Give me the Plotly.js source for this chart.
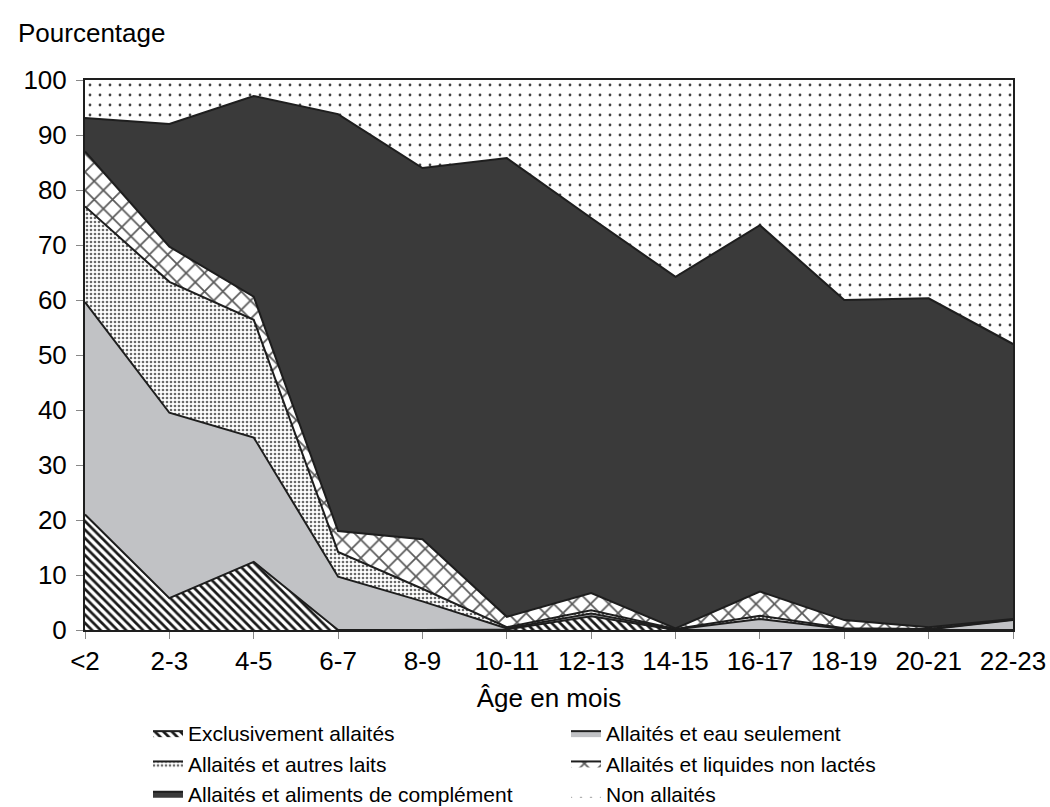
<!DOCTYPE html>
<html>
<head>
<meta charset="utf-8">
<script src="https://cdn.plot.ly/plotly-3.0.1.min.js"></script>
<style>html,body{margin:0;padding:0;background:#fff;}</style>
</head>
<body>
<div id="chart" style="width:1050px;height:807px;"></div>
<script>
// Age groups (months)
const ages = ['<2','2-3','4-5','6-7','8-9','10-11','12-13','14-15','16-17','18-19','20-21','22-23'];

// Percent of children in each feeding category (stacked, sums to 100)
const exclusif      = [21.0, 5.8, 12.4, 0.0, 0.0, 0.1, 2.5, 0.0, 0.0, 0.0, 0.0, 0.0];
const eauSeulement  = [38.6, 33.7, 22.6, 9.7, 5.2, 0.2, 0.5, 0.1, 2.0, 0.2, 0.1, 1.8];
const autresLaits   = [17.4, 23.8, 21.4, 4.5, 2.3, 0.2, 0.6, 0.1, 0.6, 0.1, 0.1, 0.1];
const liquidesNonL  = [10.0, 6.4, 4.2, 3.8, 9.0, 1.9, 3.1, 0.1, 4.4, 1.5, 0.3, 0.1];
const alimentsCompl = [6.1, 22.3, 36.5, 75.8, 67.5, 83.4, 68.2, 63.9, 66.6, 58.2, 59.8, 50.0];
const nonAllaites   = [6.9, 7.8, 2.9, 6.2, 16.0, 14.2, 25.1, 35.8, 26.4, 40.0, 39.7, 48.0];

const seriesNames = [
  'Exclusivement allaités',
  'Allaités et eau seulement',
  'Allaités et autres laits',
  'Allaités et liquides non lactés',
  'Allaités et aliments de complément',
  'Non allaités'
];

const lineStyle = {color: '#1e1e1e', width: 2, shape: 'linear'};
const base = {x: ages, type: 'scatter', mode: 'lines', stackgroup: 'one', line: lineStyle, hoverinfo: 'y+name'};

const traces = [
  Object.assign({}, base, {name: seriesNames[0], y: exclusif, fillcolor: '#ffffff',
    fillpattern: {shape: '\\', fgcolor: '#1a1a1a', bgcolor: '#ffffff', size: 6, solidity: 0.45}}),
  Object.assign({}, base, {name: seriesNames[1], y: eauSeulement, fillcolor: '#c1c2c5'}),
  Object.assign({}, base, {name: seriesNames[2], y: autresLaits, fillcolor: '#ffffff',
    fillpattern: {shape: '.', fgcolor: '#6a6a6a', bgcolor: '#ffffff', size: 4, solidity: 0.35}}),
  Object.assign({}, base, {name: seriesNames[3], y: liquidesNonL, fillcolor: '#ffffff',
    fillpattern: {shape: 'x', fgcolor: '#5a5a5a', bgcolor: '#ffffff', size: 13, solidity: 0.25}}),
  Object.assign({}, base, {name: seriesNames[4], y: alimentsCompl, fillcolor: '#3a3a3a'}),
  Object.assign({}, base, {name: seriesNames[5], y: nonAllaites, fillcolor: '#ffffff',
    line: {color: 'rgba(0,0,0,0)', width: 0},
    fillpattern: {shape: '.', fgcolor: '#444444', bgcolor: '#ffffff', size: 10, solidity: 0.06}})
];

const font = {family: 'Liberation Sans, Arial, sans-serif', size: 26, color: '#000'};
const legendFont = {family: 'Liberation Sans, Arial, sans-serif', size: 21, color: '#000'};

const layout = {
  width: 1050, height: 807,
  paper_bgcolor: '#ffffff', plot_bgcolor: '#ffffff',
  font: font,
  margin: {l: 85, r: 37, t: 80, b: 177},
  showlegend: true,
  title: {text: 'Pourcentage', x: 18/1050, xanchor: 'left', xref: 'container',
          y: 1 - 33/807, yanchor: 'middle', yref: 'container', font: font},
  xaxis: {
    type: 'category', range: [0, ages.length - 1],
    showgrid: false, zeroline: false,
    showline: true, linecolor: '#1e1e1e', linewidth: 2, mirror: true,
    ticks: 'outside', ticklen: 7, tickcolor: '#888', tickwidth: 1,
    tickfont: font,
    title: {text: 'Âge en mois', font: font, standoff: 16}
  },
  yaxis: {
    range: [0, 100], dtick: 10, tick0: 0,
    showgrid: false, zeroline: false,
    showline: true, linecolor: '#1e1e1e', linewidth: 2, mirror: true,
    ticks: 'outside', ticklen: 7, tickcolor: '#888', tickwidth: 1,
    tickfont: font, ticklabelstandoff: 4
  },
  legend: {
    orientation: 'h', traceorder: 'normal',
    xref: 'container', yref: 'container',
    x: 148 / 1050, xanchor: 'left',
    y: 1 - 713 / 807, yanchor: 'top',
    entrywidth: 373, entrywidthmode: 'pixels',
    font: legendFont, bgcolor: 'rgba(0,0,0,0)',
    tracegroupgap: 0, itemwidth: 30
  }
};

Plotly.newPlot('chart', traces, layout, {displayModeBar: false, staticPlot: true});
</script>
</body>
</html>
